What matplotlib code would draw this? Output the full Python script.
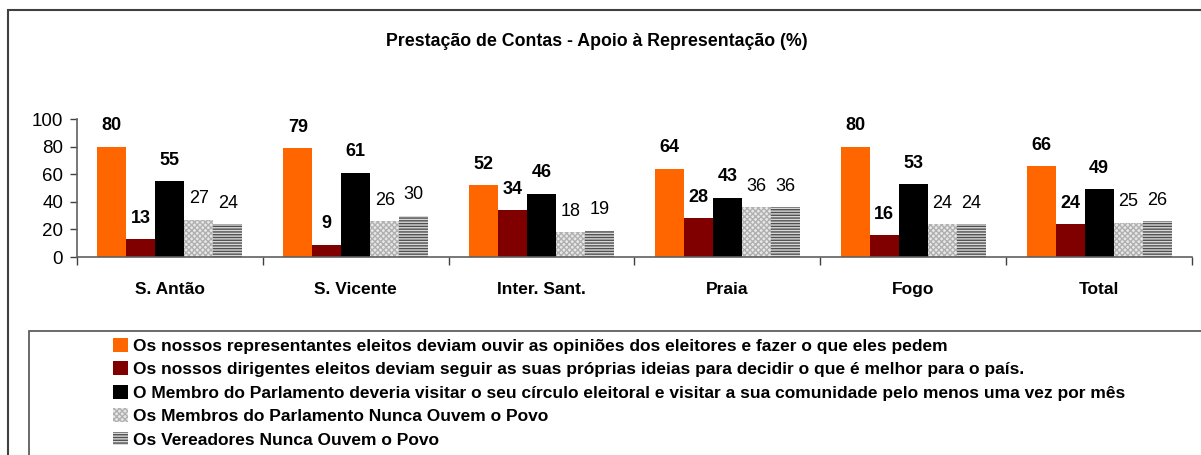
import numpy as np
import matplotlib
matplotlib.use("Agg")
import matplotlib.pyplot as plt
from matplotlib.patches import Patch, Rectangle

plt.rcParams["font.family"] = ["Liberation Sans", "DejaVu Sans"]
plt.rcParams["hatch.linewidth"] = 1.0

CATEGORIES = ["S. Antão", "S. Vicente", "Inter. Sant.", "Praia", "Fogo", "Total"]
SERIES = [
    "Os nossos representantes eleitos deviam ouvir as opiniões dos eleitores e fazer o que eles pedem",
    "Os nossos dirigentes eleitos deviam seguir as suas próprias ideias para decidir o que é melhor para o país.",
    "O Membro do Parlamento deveria visitar o seu círculo eleitoral e visitar a sua comunidade pelo menos uma vez por mês",
    "Os Membros do Parlamento Nunca Ouvem o Povo",
    "Os Vereadores Nunca Ouvem o Povo",
]
VALUES = [
    [80, 79, 52, 64, 80, 66],
    [13, 9, 34, 28, 16, 24],
    [55, 61, 46, 43, 53, 49],
    [27, 26, 18, 36, 24, 25],
    [24, 30, 19, 36, 24, 26],
]

# (facecolor, hatch, hatch colour, bold label)
STYLES = [
    ("#FF6600", None, "#FF6600", True),
    ("#800000", None, "#800000", True),
    ("#000000", None, "#000000", True),
    ("#e8e8e8", "xxxxxx", "#b0b0b0", False),
    ("#d8d8d8", "------", "#505050", False),
]

W, H = 1201, 455
fig = plt.figure(figsize=(W / 100, H / 100), dpi=100)

# outer chart frame (runs off the right/bottom edge)
fig.patches.append(Rectangle((8 / W, -0.1), 1.2, 1 - 10 / H + 0.1, transform=fig.transFigure,
                             fill=False, edgecolor="#404040", linewidth=1.5))

ax = fig.add_axes([77 / W, 1 - 257 / H, (1192 - 77) / W, (257 - 119) / H])

n = len(VALUES)
x = np.arange(len(CATEGORIES))
width = 0.78 / n
for i, (vals, (fc, hatch, hc, bold)) in enumerate(zip(VALUES, STYLES)):
    off = (i - (n - 1) / 2) * width
    ax.bar(x + off, vals, width, color=fc, hatch=hatch, edgecolor=hc, linewidth=0)
    for xi, v in zip(x + off, vals):
        ax.annotate(str(v), (xi, v), xytext=(0, 15), textcoords="offset points",
                    ha="center", va="center", fontsize=13,
                    fontweight="bold" if bold else "normal")

ax.set_xlim(-0.5, len(CATEGORIES) - 0.5)
ax.set_ylim(0, 100)
ax.set_yticks(range(0, 101, 20))
ax.tick_params(axis="y", labelsize=13.5, length=5, width=1, color="#404040", pad=5)
ax.set_xticks(np.arange(len(CATEGORIES) + 1) - 0.5)
ax.set_xticklabels([])
ax.set_xticks(x, minor=True)
ax.set_xticklabels(CATEGORIES, minor=True, fontsize=12.5, fontweight="bold")
ax.tick_params(axis="x", which="major", length=6, width=1, color="#404040")
ax.tick_params(axis="x", which="minor", length=0, pad=18)
for s in ("top", "right"):
    ax.spines[s].set_visible(False)
for s in ("left", "bottom"):
    ax.spines[s].set_color("#606060")
    ax.spines[s].set_linewidth(1.2)

fig.text(597 / W, 1 - 42 / H, "Prestação de Contas - Apoio à Representação (%)",
         ha="center", va="center", fontsize=12.8, fontweight="bold")

# legend frame (also runs off the figure)
fig.patches.append(Rectangle((29 / W, -0.1), 1.2, 1 - 331 / H + 0.1, transform=fig.transFigure,
                             fill=False, edgecolor="#505050", linewidth=1.2))
handles = [Patch(facecolor=fc, hatch=hatch, edgecolor=hc, linewidth=0)
           for fc, hatch, hc, _ in STYLES]
fig.legend(handles, SERIES, loc="upper left", bbox_to_anchor=(113 / W, 1 - 338 / H),
           frameon=False, prop={"size": 12.5, "weight": "bold"},
           handlelength=0.85, handleheight=0.85, handletextpad=0.3,
           labelspacing=0.43, borderpad=0, borderaxespad=0)

fig.savefig("out.png", dpi=100)
